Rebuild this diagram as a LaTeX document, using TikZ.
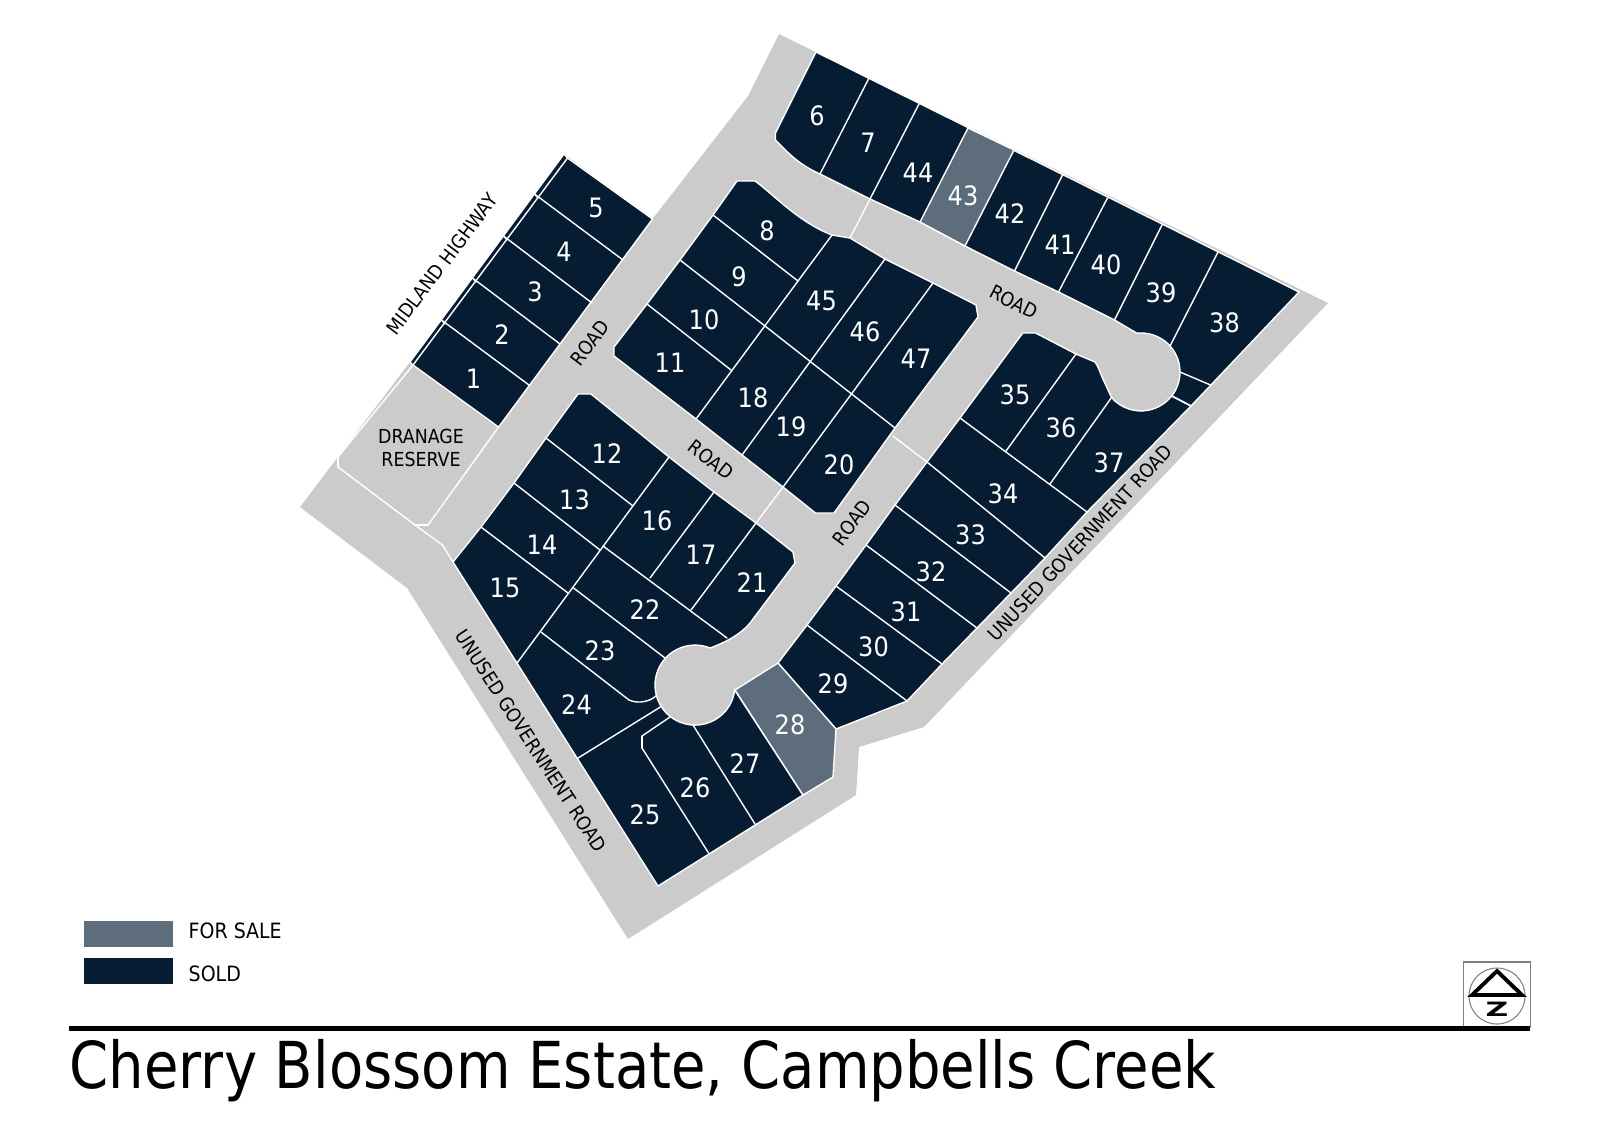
\documentclass[tikz,border=0pt]{standalone}
\usepackage{fontspec}
\setmainfont[FakeStretch=0.9]{DejaVu Sans}
\newfontfamily\titlefont[FakeStretch=0.867]{DejaVu Sans}
\usepackage{tkz-euclide}
\definecolor{soldblue}{HTML}{051C33}
\definecolor{saleblue}{HTML}{5D6D7C}
\definecolor{roadgrey}{HTML}{CBCBCB}
\tikzset{
  soldlot/.style={fill=soldblue,draw=white,line width=.4pt},
  salelot/.style={fill=saleblue,draw=white,line width=.4pt},
  lotline/.style={white,line width=.4pt},
  lotlabel/.style={white,inner sep=0pt,font=\fontsize{7.6}{9}\selectfont},
  roadlabel/.style={black,inner sep=0pt,align=center,font=\fontsize{5.5}{6.6}\selectfont},
  keylabel/.style={black,inner sep=0pt,anchor=west,font=\fontsize{6}{7}\selectfont}
}

\begin{document}
\begin{tikzpicture}
    \useasboundingbox (0,0) rectangle (16,-11.31);
    \tkzDefPoints{7.79/-0.34/R1,13.28/-3.03/R2,9.24/-7.27/R3,8.59/-7.47/R4,8.56/-7.95/R5,6.28/-9.39/R6,4.07/-5.88/R7,3.00/-5.07/R8,4.10/-3.62/R9,5.64/-1.54/R10,6.525/-2.19/R11,7.48/-0.96/R12}
    \tkzDefPoints{8.16/-0.52/N1,8.69/-0.78/N2,9.195/-1.03/N3,9.68/-1.28/N4,10.14/-1.50/N5,10.63/-1.74/N6,11.08/-1.97/N7,11.625/-2.24/N8,12.18/-2.52/N9,12.99/-2.92/N10}
    \tkzDefPoints{7.755/-1.33/S0,7.755/-1.40/S1,8.20/-1.74/S2,8.70/-1.99/S3,9.20/-2.22/S4,9.65/-2.46/S5,10.145/-2.71/S6,10.585/-2.92/S7,11.145/-3.20/S8,11.70/-3.46/S9}
    \tkzDefPoints{11.80/-3.72/T1,12.105/-3.85/T2,11.717/-3.96/T3,11.91/-4.06/T4}
    \tkzDefPoints{10.227/-3.33/E1,10.356/-3.33/E2,10.76/-3.54/E3,10.95/-3.62/E4,11.02/-3.77/E5,11.115/-3.975/E6}
    \tkzDefPoints{9.60/-4.18/E7,9.27/-4.62/E8,8.95/-5.05/E9,8.66/-5.45/E10,8.36/-5.86/E11,8.07/-6.25/E12,7.78/-6.63/E13}
    \tkzDefPoints{10.87/-5.12/F7,10.45/-5.58/F8,10.11/-5.93/F9,9.77/-6.28/F10,9.42/-6.64/F11,9.07/-7.01/F12,8.36/-7.29/F13,8.33/-7.77/F14,8.03/-7.95/F15,10.06/-4.51/G1,10.50/-4.84/G2}
    \tkzDefPoints{7.37/-1.81/C1,7.55/-1.81/C2,8.32/-2.35/C3,8.50/-2.38/C4,8.85/-2.59/C5,9.33/-2.83/C6,9.76/-3.05/C7,9.78/-3.17/C8,8.95/-4.28/C9,8.34/-5.13/C10,8.155/-5.13/C11,7.83/-4.87/C12,7.42/-4.55/C13,6.96/-4.19/C14,6.14/-3.56/C15,6.14/-3.47/C16,6.47/-3.04/C17,6.80/-2.60/C18,7.13/-2.15/C19}
    \tkzDefPoints{7.98/-2.81/D1,7.65/-3.26/D2,7.31/-3.70/D3,8.93/-4.36/D6}
    \tkzDefPoints{4.53/-5.62/W1,4.81/-5.27/W2,5.14/-4.83/W3,5.46/-4.38/W4,5.78/-3.94/W5,5.91/-3.94/W6,6.69/-4.57/W7,7.14/-4.92/W8,7.56/-5.23/W9,7.93/-5.52/W10,7.95/-5.63/W11,7.50/-6.23/W12,7.10/-6.48/W13,7.35/-6.90/W14,6.58/-8.86/W15}
    \tkzDefPoints{6.33/-5.06/P1,6.00/-5.50/P2,5.68/-5.93/P3,5.41/-6.32/P4,5.17/-6.63/P5,5.78/-7.58/P6,7.086/-8.53/P7,7.55/-8.24/P8,6.50/-5.78/P9,6.91/-6.10/P10,6.03/-5.46/P11,7.27/-6.38/P12,5.736/-5.88/P13,6.646/-6.577/P14,6.29/-7.00/P15,6.57/-6.95/P16,6.62/-7.06/P17,6.70/-7.17/P18,6.42/-7.36/P19,6.42/-7.48/P20,6.93/-7.25/P21}
    \tkzDefPoints{5.675/-1.58/H1,4.986/-4.27/H2,4.13/-3.65/H3,5.38/-1.98/H4,5.07/-2.40/H5,4.76/-2.82/H6,4.45/-3.24/H7,6.23/-2.60/H8,5.92/-3.03/H9,5.60/-3.44/H10,5.29/-3.85/H11,5.345/-1.94/H12,5.035/-2.36/H13,4.725/-2.78/H14,4.415/-3.20/H15}
    \tkzDefPoints{3.38/-4.57/K1,3.38/-4.67/K2,4.15/-5.25/K3,4.28/-5.25/K4,4.425/-5.45/K5}
    \fill[roadgrey] (R1) -- (R2) -- (R3) -- (R4) -- (R5) -- (R6) -- (R7) -- (R8) -- (R9) -- (R10) -- (R11) -- (R12) -- cycle;
    \path[soldlot] (R9) -- (R10) -- (H1) -- (R11) -- (H2) -- (H3) -- cycle;
    \path[soldlot] (N1) -- (N10) -- (T4) -- (T3) arc[start angle=-38,end angle=96,radius=.39] -- (S8) -- (S7) -- (S6) -- (S5) -- (S4) -- (S3) -- (S2) .. controls (8.00,-1.65) and (7.90,-1.55) .. (S1) -- (S0) -- cycle;
    \path[salelot] (N4) -- (N5) -- (S5) -- (S4) -- cycle;
    \path[soldlot] (E1) -- (E2) -- (E3) -- (E4) .. controls (10.98,-3.66) and (11.00,-3.72) .. (E5) -- (E6) arc[start angle=221,end angle=322,radius=.39] -- (T4) -- (F7) -- (F8) -- (F9) -- (F10) -- (F11) -- (F12) -- (F13) -- (E13) -- (E12) -- (E11) -- (E10) -- (E9) -- (E8) -- (E7) -- cycle;
    \path[soldlot] (C1) -- (C2) .. controls (7.72,-1.93) and (7.98,-2.22) .. (C3) -- (C4) -- (C5) -- (C6) -- (C7) -- (C8) -- (C9) -- (C10) -- (C11) -- (C12) -- (C13) -- (C14) -- (C15) -- (C16) -- (C17) -- (C18) -- (C19) -- cycle;
    \path[soldlot] (W1) -- (W2) -- (W3) -- (W4) -- (W5) -- (W6) -- (W7) -- (W8) -- (W9) -- (W10) -- (W11) -- (W12) .. controls (7.42,-6.33) and (7.27,-6.42) .. (W13) arc[start angle=68,end angle=353,radius=.40] -- (F15) -- (W15) -- cycle;
    \path[salelot] (W14) -- (E13) -- (F13) -- (F14) -- (F15) -- cycle;
    \tkzDrawSegments[lotline](N2,S2 N3,S3 N6,S6 N7,S7 N8,S8 N9,S9 T1,T2 T3,T4)
    \tkzDrawSegments[lotline](E3,G1 E6,G2 E7,F7 E8,D6 E8,F8 E9,F9 E10,F10 E11,F11 E12,F12)
    \tkzDrawSegments[lotline](C19,D1 C18,D2 C17,D3 D2,C9 C3,C14 C5,C13 C6,C12 C12,W9 S3,C4)
    \tkzDrawSegments[lotline](W4,P1 W3,P2 W2,P3 W7,P5 W8,P9 W9,P10 P11,P12 P13,P14 P4,P15 P6,P17 P18,P19 P19,P20 P20,P7 P21,P8)
    \draw[lotline] (P15) .. controls (6.38,-7.04) and (6.50,-7.02) .. (P16);
    \tkzDrawSegments[lotline](H1,H3 H12,H8 H13,H9 H14,H10 H15,H11 H4,H12 H5,H13 H6,H14 H7,H15)
    \tkzDrawSegments[lotline](H3,K1 K1,K2 K2,K3 K3,K4 K4,H2 K3,K5 K5,W1)
    \node[lotlabel] (lot1) at (4.735,-3.79) {1};
    \node[lotlabel] (lot2) at (5.02,-3.35) {2};
    \node[lotlabel] (lot3) at (5.35,-2.92) {3};
    \node[lotlabel] (lot4) at (5.64,-2.52) {4};
    \node[lotlabel] (lot5) at (5.96,-2.08) {5};
    \node[lotlabel] (lot6) at (8.17,-1.16) {6};
    \node[lotlabel] (lot7) at (8.68,-1.43) {7};
    \node[lotlabel] (lot8) at (7.67,-2.31) {8};
    \node[lotlabel] (lot9) at (7.39,-2.765) {9};
    \node[lotlabel] (lot10) at (7.04,-3.20) {10};
    \node[lotlabel] (lot11) at (6.70,-3.63) {11};
    \node[lotlabel] (lot12) at (6.07,-4.54) {12};
    \node[lotlabel] (lot13) at (5.745,-5.00) {13};
    \node[lotlabel] (lot14) at (5.42,-5.45) {14};
    \node[lotlabel] (lot15) at (5.05,-5.88) {15};
    \node[lotlabel] (lot16) at (6.57,-5.21) {16};
    \node[lotlabel] (lot17) at (7.01,-5.55) {17};
    \node[lotlabel] (lot18) at (7.53,-3.98) {18};
    \node[lotlabel] (lot19) at (7.91,-4.265) {19};
    \node[lotlabel] (lot20) at (8.39,-4.65) {20};
    \node[lotlabel] (lot21) at (7.52,-5.83) {21};
    \node[lotlabel] (lot22) at (6.45,-6.10) {22};
    \node[lotlabel] (lot23) at (6.00,-6.51) {23};
    \node[lotlabel] (lot24) at (5.765,-7.05) {24};
    \node[lotlabel] (lot25) at (6.45,-8.15) {25};
    \node[lotlabel] (lot26) at (6.95,-7.88) {26};
    \node[lotlabel] (lot27) at (7.45,-7.64) {27};
    \node[lotlabel] (lot28) at (7.90,-7.245) {28};
    \node[lotlabel] (lot29) at (8.33,-6.84) {29};
    \node[lotlabel] (lot30) at (8.735,-6.47) {30};
    \node[lotlabel] (lot31) at (9.06,-6.12) {31};
    \node[lotlabel] (lot32) at (9.31,-5.72) {32};
    \node[lotlabel] (lot33) at (9.705,-5.35) {33};
    \node[lotlabel] (lot34) at (10.03,-4.94) {34};
    \node[lotlabel] (lot35) at (10.15,-3.95) {35};
    \node[lotlabel] (lot36) at (10.61,-4.275) {36};
    \node[lotlabel] (lot37) at (11.09,-4.63) {37};
    \node[lotlabel] (lot38) at (12.245,-3.225) {38};
    \node[lotlabel] (lot39) at (11.61,-2.93) {39};
    \node[lotlabel] (lot40) at (11.06,-2.65) {40};
    \node[lotlabel] (lot41) at (10.60,-2.45) {41};
    \node[lotlabel] (lot42) at (10.10,-2.14) {42};
    \node[lotlabel] (lot43) at (9.63,-1.96) {43};
    \node[lotlabel] (lot44) at (9.18,-1.725) {44};
    \node[lotlabel] (lot45) at (8.215,-3.01) {45};
    \node[lotlabel] (lot46) at (8.65,-3.316) {46};
    \node[lotlabel] (lot47) at (9.16,-3.59) {47};
    \node[roadlabel,rotate=53] (highway) at (4.42,-2.64) {MIDLAND HIGHWAY};
    \node[roadlabel] (reserve) at (4.21,-4.48) {DRANAGE\\RESERVE};
    \node[roadlabel,rotate=53] (roadnw) at (5.90,-3.43) {ROAD};
    \node[roadlabel,rotate=-38] (roadmid) at (7.11,-4.60) {ROAD};
    \node[roadlabel,rotate=-27] (roadne) at (10.14,-3.02) {ROAD};
    \node[roadlabel,rotate=53] (roadse) at (8.52,-5.225) {ROAD};
    \node[roadlabel,rotate=47] (unusede) at (10.80,-5.43) {UNUSED GOVERNMENT ROAD};
    \node[roadlabel,rotate=-57] (unusedw) at (5.31,-7.41) {UNUSED GOVERNMENT ROAD};
    \fill[saleblue] (0.84,-9.21) rectangle (1.73,-9.47);
    \fill[soldblue] (0.84,-9.58) rectangle (1.73,-9.84);
    \node[keylabel] (forsale) at (1.88,-9.31) {FOR SALE};
    \node[keylabel] (sold) at (1.88,-9.74) {SOLD};
    \draw[gray,line width=.3pt] (14.63,-9.62) rectangle (15.30,-10.27);
    \draw[gray,line width=.3pt] (14.97,-9.96) circle (.28);
    \draw[black,line width=1.1pt] (14.72,-9.95) -- (14.97,-9.71) -- (15.22,-9.95) -- cycle;
    \node[inner sep=0pt,xscale=1.5,yscale=.85,font=\bfseries\fontsize{6.6}{8}\selectfont] (north) at (14.97,-10.09) {Z};
    \draw[black,line width=1.42pt] (0.69,-10.285) -- (15.30,-10.285);
    \node[anchor=base west,inner sep=0pt,font=\titlefont\fontsize{18.4}{22}\selectfont] (title) at (0.69,-10.88) {Cherry Blossom Estate, Campbells Creek};
  \end{tikzpicture}
\end{document}
